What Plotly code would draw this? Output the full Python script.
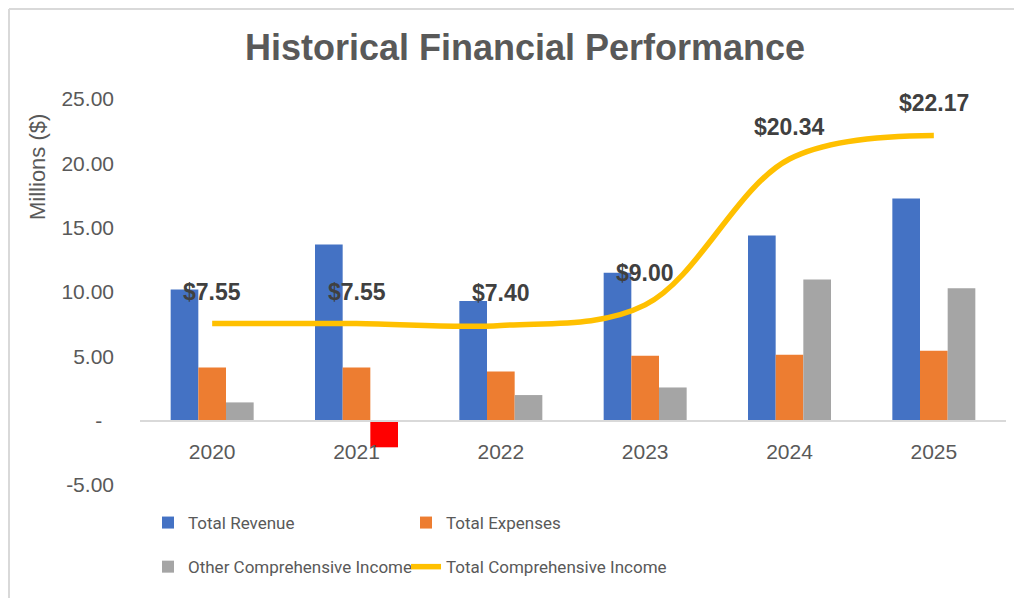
import plotly.graph_objects as go

years = ["2020", "2021", "2022", "2023", "2024", "2025"]
total_revenue = [10.20, 13.70, 9.30, 11.50, 14.40, 17.26]
total_expenses = [4.13, 4.13, 3.82, 5.04, 5.12, 5.43]
other_comprehensive_income = [1.42, -2.07, 1.99, 2.58, 10.98, 10.29]
total_comprehensive_income = [7.55, 7.55, 7.40, 9.00, 20.34, 22.17]
y_tick_vals = [-5, 0, 5, 10, 15, 20, 25]
y_tick_text = ["-5.00", "-\u00a0\u00a0", "5.00", "10.00", "15.00", "20.00", "25.00"]

# page body has an 8px margin; figure is placed at (8, 8)
O = 8
W, H = 1014, 590
ML, MR, MT, MB = 132, 16, 91, 113
PW, PH = W - ML - MR, H - MT - MB

def px_x(p):  # reference page pixel -> paper x
    return (p - O - ML) / PW

def px_y(p):  # reference page pixel -> paper y
    return (H - MB - (p - O)) / PH

GRAY = "#595959"
oci_colors = ["#FF0000" if v < 0 else "#A5A5A5" for v in other_comprehensive_income]

fig = go.Figure()
fig.add_trace(go.Bar(x=years, y=total_revenue, name="Total Revenue",
                     marker=dict(color="#4472C4", line=dict(width=0)),
                     legend="legend", legendgroup="a"))
fig.add_trace(go.Bar(x=years, y=total_expenses, name="Total Expenses",
                     marker=dict(color="#ED7D31", line=dict(width=0)),
                     legend="legend2", legendgroup="b"))
fig.add_trace(go.Bar(x=years, y=other_comprehensive_income, name="Other Comprehensive Income",
                     marker=dict(color=oci_colors, line=dict(width=0)),
                     legend="legend", legendgroup="c"))
fig.add_trace(go.Scatter(x=years, y=total_comprehensive_income, name="Total Comprehensive Income",
                         mode="lines", line=dict(color="#FFC000", width=5.5, shape="spline", smoothing=1.0),
                         legend="legend2", legendgroup="d"))

for i, v in enumerate(total_comprehensive_income):
    fig.add_annotation(x=i, y=v, text=f"${v:.2f}", showarrow=False, yshift=32,
                       font=dict(family="Liberation Sans", size=23, color="#404040", weight="bold"))

fig.add_annotation(xref="paper", yref="paper", x=px_x(37), y=px_y(167), text="Millions ($)",
                   textangle=-90, showarrow=False, xanchor="center", yanchor="middle",
                   font=dict(family="Liberation Sans", size=22, color=GRAY))

frame = "#D9D9D9"
fig.add_shape(type="line", xref="paper", yref="paper", x0=px_x(9), x1=px_x(1030), y0=px_y(9), y1=px_y(9),
              line=dict(color=frame, width=2))
fig.add_shape(type="line", xref="paper", yref="paper", x0=px_x(9), x1=px_x(9), y0=px_y(9), y1=px_y(620),
              line=dict(color=frame, width=2))

legend_font = dict(family="Roboto", size=17, color=GRAY)
fig.update_layout(
    width=W, height=H,
    margin=dict(l=ML, r=MR, t=MT, b=MB),
    paper_bgcolor="white", plot_bgcolor="white",
    barmode="group", bargap=0.425, bargroupgap=0,
    title=dict(text="<b>Historical Financial Performance</b>", x=(525 - O) / W, xanchor="center",
               y=1 - (47 - O) / H, yanchor="middle", xref="container", yref="container",
               font=dict(family="Liberation Sans", size=36, color=GRAY)),
    xaxis=dict(type="category", anchor="free", position=1 / 6, showline=True,
               linecolor="#D9D9D9", linewidth=2, showgrid=False, ticks="",
               tickfont=dict(family="Liberation Sans", size=21, color=GRAY),
               ticklabelstandoff=12),
    yaxis=dict(range=[-5, 25], tickvals=y_tick_vals, ticktext=y_tick_text, showgrid=False,
               zeroline=False, showline=False, ticks="",
               tickfont=dict(family="Liberation Sans", size=21, color=GRAY),
               ticklabelstandoff=25),
    legend=dict(x=px_x(148), y=px_y(505), xanchor="left", yanchor="top", orientation="v",
                font=legend_font, tracegroupgap=19, bgcolor="rgba(0,0,0,0)"),
    legend2=dict(x=px_x(406), y=px_y(505), xanchor="left", yanchor="top", orientation="v",
                 font=legend_font, tracegroupgap=19, bgcolor="rgba(0,0,0,0)"),
)

fig.write_html("out.html")
